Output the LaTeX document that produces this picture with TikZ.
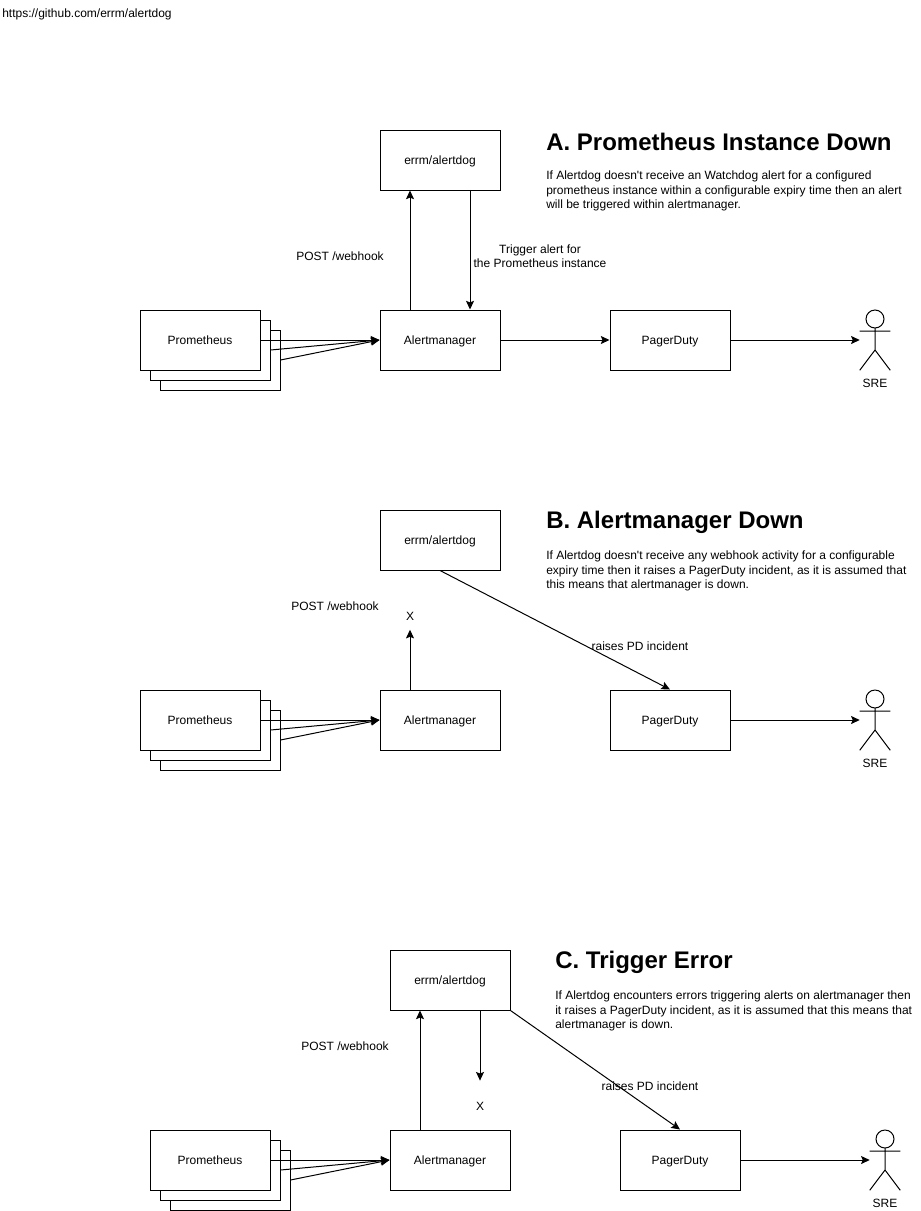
\documentclass[tikz,border=0pt]{standalone}
\usepackage{fontspec}
\setmainfont{Liberation Sans}
\usetikzlibrary{arrows.meta,positioning}

\tikzset{
	box/.style={draw,fill=white,line width=0.75pt,minimum width=90pt,minimum height=45pt,inner sep=0pt,text height=7.5pt,text depth=1pt,font=\fontsize{9}{10.5}\selectfont},
	actor/.style={minimum width=22.5pt,minimum height=45pt,inner sep=0pt},
	label/.style={inner sep=0pt,align=center,font=\fontsize{9}{10.5}\selectfont},
	heading/.style={inner sep=0pt,anchor=west,font=\fontsize{18}{21}\selectfont\bfseries},
	para/.style={inner sep=0pt,anchor=north west,align=left,font=\fontsize{9}{10.7}\selectfont},
	link/.style={-{Stealth[length=6.5pt,width=6pt,inset=1.2pt]},line width=0.75pt}
}

% stick figure, drawn inside its empty node
\newcommand{\stickfigure}[1]{
	\draw[line width=0.75pt] ([yshift=15.75pt]#1.center) circle (6.75pt);
	\draw[line width=0.75pt] ([yshift=9pt]#1.center) -- ([yshift=-7.5pt]#1.center)
		-- (#1.south west) ([yshift=-7.5pt]#1.center) -- (#1.south east)
		([yshift=6.75pt]#1.west) -- ([yshift=6.75pt]#1.east);
}

\begin{document}
\begin{tikzpicture}[x=0.75pt,y=-0.75pt,node distance=172.5pt and 135pt,on grid]
	\useasboundingbox (0,0) rectangle (921,1211);
	\node[label,anchor=west] (url) at (2,14) {https://github.com/errm/alertdog};

	% A
	\node[box] (prom_a3) at (220,360) {};
	\node[box] (prom_a2) at (210,350) {};
	\node[box] (prom_a1) at (200,340) {Prometheus};
	\node[box] (alert_a) at (440,340) {Alertmanager};
	\node[box] (dog_a) at (440,160) {errm/alertdog};
	\node[box] (pd_a) at (670,340) {PagerDuty};
	\node[actor] (sre_a) at (875,340) {};
	\stickfigure{sre_a}
	\node[label] (sre_label_a) at (875,383) {SRE};
	\node[label] (post_a) at (340,256) {POST /webhook};
	\node[label] (trigger_a) at (540,256) {Trigger alert for\\the Prometheus instance};
	\node[heading] (title_a) at (546,142) {A. Prometheus Instance Down};
	\node[para] (text_a) at (546,171) {If Alertdog doesn\textquotesingle t receive an Watchdog alert for a configured\\prometheus instance within a configurable expiry time then an alert\\will be triggered within alertmanager.};

	\draw[link] (prom_a1.east) -- (alert_a.west);
	\draw[link] (prom_a2.east) -- (alert_a.west);
	\draw[link] (prom_a3.east) -- (alert_a.west);
	\draw[link] ([xshift=-22.5pt]alert_a.north) -- ([xshift=-22.5pt]dog_a.south);
	\draw[link] ([xshift=22.5pt]dog_a.south) -- ([xshift=22.5pt]alert_a.north);
	\draw[link] (alert_a) -- (pd_a);
	\draw[link] (pd_a) -- (sre_a);

	% B
	\node[box] (prom_b3) at (220,740) {};
	\node[box] (prom_b2) at (210,730) {};
	\node[box] (prom_b1) at (200,720) {Prometheus};
	\node[box] (alert_b) at (440,720) {Alertmanager};
	\node[box] (dog_b) at (440,540) {errm/alertdog};
	\node[box] (pd_b) at (670,720) {PagerDuty};
	\node[actor] (sre_b) at (875,720) {};
	\stickfigure{sre_b}
	\node[label] (sre_label_b) at (875,763) {SRE};
	\node[label] (post_b) at (335,606) {POST /webhook};
	\node[label] (x_b) at (410,616) {X};
	\node[label] (raise_b) at (640,646) {raises PD incident};
	\node[heading] (title_b) at (546,522) {B. Alertmanager Down};
	\node[para] (text_b) at (546,551) {If Alertdog doesn\textquotesingle t receive any webhook activity for a configurable\\expiry time then it raises a PagerDuty incident, as it is assumed that\\this means that alertmanager is down.};

	\draw[link] (prom_b1.east) -- (alert_b.west);
	\draw[link] (prom_b2.east) -- (alert_b.west);
	\draw[link] (prom_b3.east) -- (alert_b.west);
	\draw[link] ([xshift=-22.5pt]alert_b.north) -- ([yshift=-7pt]x_b.south);
	\draw[link] (dog_b.south) -- (pd_b.north);
	\draw[link] (pd_b) -- (sre_b);

	% C
	\node[box] (prom_c3) at (230,1180) {};
	\node[box] (prom_c2) at (220,1170) {};
	\node[box] (prom_c1) at (210,1160) {Prometheus};
	\node[box] (alert_c) at (450,1160) {Alertmanager};
	\node[box] (dog_c) at (450,980) {errm/alertdog};
	\node[box] (pd_c) at (680,1160) {PagerDuty};
	\node[actor] (sre_c) at (885,1160) {};
	\stickfigure{sre_c}
	\node[label] (sre_label_c) at (885,1203) {SRE};
	\node[label] (post_c) at (345,1046) {POST /webhook};
	\node[label] (x_c) at (480,1106) {X};
	\node[label] (raise_c) at (650,1086) {raises PD incident};
	\node[heading] (title_c) at (555,962) {C. Trigger Error};
	\node[para] (text_c) at (555,991) {If Alertdog encounters errors triggering alerts on alertmanager then\\it raises a PagerDuty incident, as it is assumed that this means that\\alertmanager is down.};

	\draw[link] (prom_c1.east) -- (alert_c.west);
	\draw[link] (prom_c2.east) -- (alert_c.west);
	\draw[link] (prom_c3.east) -- (alert_c.west);
	\draw[link] ([xshift=-22.5pt]alert_c.north) -- ([xshift=-22.5pt]dog_c.south);
	\draw[link] ([xshift=22.5pt]dog_c.south) -- ([yshift=15.75pt]x_c.north);
	\draw[link] (dog_c.south east) -- (pd_c.north);
	\draw[link] (pd_c) -- (sre_c);
\end{tikzpicture}
\end{document}
